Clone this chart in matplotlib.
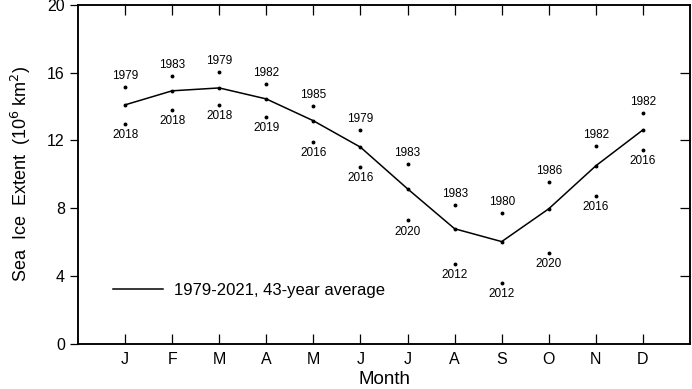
import numpy as np
import matplotlib.pyplot as plt

plt.rcParams['font.family'] = ['Liberation Sans', 'DejaVu Sans']

months = ['J', 'F', 'M', 'A', 'M', 'J', 'J', 'A', 'S', 'O', 'N', 'D']
avg = [14.1, 14.93, 15.1, 14.45, 13.16, 11.6, 9.14, 6.78, 6.02, 7.96, 10.5, 12.62]
max_val = [15.16, 15.8, 16.05, 15.34, 14.04, 12.62, 10.62, 8.2, 7.73, 9.56, 11.68, 13.63]
max_year = ['1979', '1983', '1979', '1982', '1985', '1979', '1983', '1983', '1980', '1986', '1982', '1982']
min_val = [12.98, 13.8, 14.1, 13.4, 11.92, 10.44, 7.3, 4.72, 3.6, 5.37, 8.73, 11.45]
min_year = ['2018', '2018', '2018', '2019', '2016', '2016', '2020', '2012', '2012', '2020', '2016', '2016']

x = np.arange(1, 13)

fig = plt.figure(figsize=(6.92, 3.89), dpi=100)
ax = fig.add_axes([78/692, 45.5/389, 612/692, 338.5/389])

ax.plot(x, avg, color='k', lw=1.1, label='1979-2021, 43-year average')
ax.plot(x, avg, 'ko', ms=1.8, ls='none')
ax.plot(x, max_val, 'ko', ms=1.8, ls='none')
ax.plot(x, min_val, 'ko', ms=1.8, ls='none')

for xi, v, yr in zip(x, max_val, max_year):
    ax.annotate(yr, (xi, v), xytext=(0, 3.5), textcoords='offset points',
                ha='center', va='bottom', fontsize=8.5)
for xi, v, yr in zip(x, min_val, min_year):
    ax.annotate(yr, (xi, v), xytext=(0, -4), textcoords='offset points',
                ha='center', va='top', fontsize=8.5)

ax.set_xlim(0, 13)
ax.set_ylim(0, 20)
ax.set_xticks(x)
ax.set_xticklabels(months, fontsize=11.5)
ax.set_yticks([0, 4, 8, 12, 16, 20])
ax.tick_params(axis='x', direction='in', top=True, length=7, width=0.9, pad=6)
ax.tick_params(axis='y', left=True, direction='out', length=6, width=0.9, labelsize=11.5)
ax.tick_params(axis='y', which='both', right=False)

# inward ticks on the right side (no labels)
ax2 = ax.twinx()
ax2.set_ylim(0, 20)
ax2.set_yticks([4, 8, 12, 16])
ax2.tick_params(axis='y', direction='in', length=7, width=0.9, labelright=False)

for a in (ax, ax2):
    for s in a.spines.values():
        s.set_linewidth(1.1)

ax.set_xlabel('Month', fontsize=13.5, labelpad=3)
ax.set_ylabel('Sea  Ice  Extent  (10$^6$ km$^2$)', fontsize=13, labelpad=10)

ax.legend(loc='lower left', bbox_to_anchor=(0.032, 0.09), frameon=False,
          fontsize=12, handlelength=3.0, handletextpad=0.7)

fig.savefig('out.png', dpi=100)
